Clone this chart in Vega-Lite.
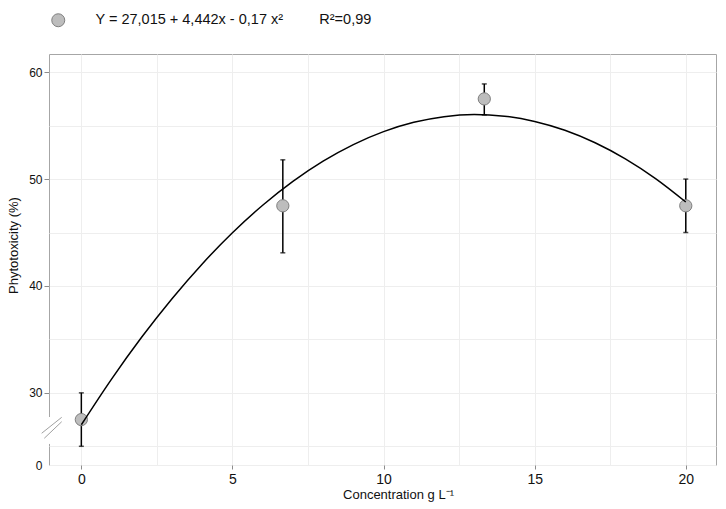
{
  "$schema": "https://vega.github.io/schema/vega-lite/v6.json",
  "width": 667,
  "height": 411,
  "autosize": {"type": "none"},
  "padding": {"left": 49, "top": 54, "right": 10, "bottom": 44},
  "background": "white",
  "config": {
    "font": "Liberation Sans",
    "view": {"stroke": "#a6a6a6", "strokeWidth": 1},
    "axis": {
      "labelFont": "Liberation Sans",
      "titleFont": "Liberation Sans",
      "labelColor": "#111111",
      "titleColor": "#111111",
      "titleFontWeight": "normal",
      "titleFontSize": 13,
      "domain": false,
      "gridColor": "#eeeeee",
      "gridWidth": 1
    }
  },
  "datasets": {
    "obs": [
      {"conc": 0, "phyto": 27.5, "lo": 25.0, "hi": 30.0},
      {"conc": 6.667, "phyto": 47.5, "lo": 43.1, "hi": 51.8},
      {"conc": 13.333, "phyto": 57.5, "lo": 56.0, "hi": 58.9},
      {"conc": 20, "phyto": 47.5, "lo": 45.0, "hi": 50.0}
    ],
    "fit": [
      {"conc": 0, "phyto": 27.015},
      {"conc": 1, "phyto": 31.287},
      {"conc": 2, "phyto": 35.219},
      {"conc": 3, "phyto": 38.811},
      {"conc": 4, "phyto": 42.063},
      {"conc": 5, "phyto": 44.975},
      {"conc": 6, "phyto": 47.547},
      {"conc": 7, "phyto": 49.779},
      {"conc": 8, "phyto": 51.671},
      {"conc": 9, "phyto": 53.223},
      {"conc": 10, "phyto": 54.435},
      {"conc": 11, "phyto": 55.307},
      {"conc": 12, "phyto": 55.839},
      {"conc": 13, "phyto": 56.031},
      {"conc": 14, "phyto": 55.883},
      {"conc": 15, "phyto": 55.395},
      {"conc": 16, "phyto": 54.567},
      {"conc": 17, "phyto": 53.399},
      {"conc": 18, "phyto": 51.891},
      {"conc": 19, "phyto": 50.043},
      {"conc": 20, "phyto": 47.855}
    ],
    "one": [{}]
  },
  "layer": [
    {
      "data": {"name": "obs"},
      "mark": {
        "type": "errorbar",
        "color": "black",
        "thickness": 1.5,
        "ticks": {"size": 5, "color": "black", "thickness": 1.5}
      },
      "encoding": {
        "x": {
          "field": "conc",
          "type": "quantitative",
          "title": "Concentration g L⁻¹",
          "scale": {"domain": [-1.07, 21], "nice": false, "zero": false},
          "axis": {
            "values": [0, 2.5, 5, 7.5, 10, 12.5, 15, 17.5, 20],
            "labelExpr": "datum.value % 5 === 0 ? datum.label : ''",
            "labelFontSize": 14,
            "labelPadding": 3,
            "tickSize": 4,
            "tickColor": {"condition": {"test": "datum.value % 5 === 0", "value": "#8c8c8c"}, "value": "transparent"},
            "titlePadding": 2,
            "titleX": 349
          }
        },
        "y": {
          "field": "lo",
          "type": "quantitative",
          "title": "Phytotoxicity (%)",
          "scale": {"domain": [23.25, 61.7], "nice": false, "zero": false},
          "axis": {
            "values": [23.25, 25, 30, 35, 40, 45, 50, 55, 60],
            "labelExpr": "datum.value < 24 ? '0' : (datum.value % 10 === 0 ? datum.label : '')",
            "labelFontSize": 12,
            "labelPadding": 2,
            "tickSize": 5,
            "tickColor": {"condition": {"test": "datum.value % 10 === 0", "value": "#8c8c8c"}, "value": "transparent"},
            "titlePadding": 8,
            "titleY": 191
          }
        },
        "y2": {"field": "hi"}
      }
    },
    {
      "data": {"name": "obs"},
      "mark": {"type": "point", "filled": true, "size": 150, "stroke": "#7f7f7f", "strokeWidth": 1, "opacity": 1},
      "encoding": {
        "x": {"field": "conc", "type": "quantitative", "title": "Concentration g L⁻¹"},
        "y": {"field": "phyto", "type": "quantitative", "title": "Phytotoxicity (%)"},
        "color": {
          "datum": "Y = 27,015 + 4,442x - 0,17 x²\u00a0\u00a0\u00a0\u00a0\u00a0\u00a0\u00a0\u00a0\u00a0R²=0,99",
          "type": "nominal",
          "scale": {"range": ["#bdbdbd"]},
          "legend": {
            "orient": "none",
            "legendX": 2,
            "legendY": -41,
            "title": null,
            "padding": 0,
            "symbolType": "circle",
            "symbolSize": 169,
            "symbolStrokeColor": "#7f7f7f",
            "symbolStrokeWidth": 1,
            "symbolOpacity": 1,
            "labelFont": "Liberation Sans",
            "labelFontSize": 14.5,
            "labelColor": "#111111",
            "labelOffset": 30,
            "labelLimit": 600
          }
        }
      }
    },
    {
      "data": {"name": "fit"},
      "mark": {"type": "line", "color": "black", "strokeWidth": 1.5, "interpolate": "monotone"},
      "encoding": {
        "x": {"field": "conc", "type": "quantitative", "title": "Concentration g L⁻¹"},
        "y": {"field": "phyto", "type": "quantitative", "title": "Phytotoxicity (%)"}
      }
    },
    {
      "data": {"name": "one"},
      "mark": {"type": "rule", "color": "white", "strokeWidth": 3},
      "encoding": {
        "x": {"datum": -1.07, "type": "quantitative", "title": "Concentration g L⁻¹"},
        "y": {"datum": 25.22, "type": "quantitative", "title": "Phytotoxicity (%)"},
        "y2": {"datum": 27.74}
      }
    },
    {
      "data": {"name": "one"},
      "mark": {"type": "rule", "color": "#a0a0a0", "strokeWidth": 1},
      "encoding": {
        "x": {"datum": -1.312, "type": "quantitative", "title": "Concentration g L⁻¹"},
        "x2": {"datum": -0.65},
        "y": {"datum": 26.22, "type": "quantitative", "title": "Phytotoxicity (%)"},
        "y2": {"datum": 27.71}
      }
    },
    {
      "data": {"name": "one"},
      "mark": {"type": "rule", "color": "#a0a0a0", "strokeWidth": 1},
      "encoding": {
        "x": {"datum": -1.226, "type": "quantitative", "title": "Concentration g L⁻¹"},
        "x2": {"datum": -0.65},
        "y": {"datum": 25.75, "type": "quantitative", "title": "Phytotoxicity (%)"},
        "y2": {"datum": 27.3}
      }
    }
  ]
}
